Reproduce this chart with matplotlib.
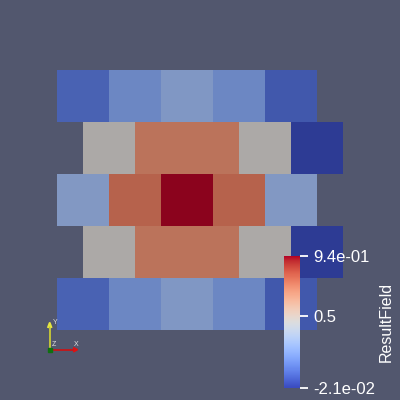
import numpy as np
import matplotlib
matplotlib.use("Agg")
import matplotlib.pyplot as plt
from matplotlib.colors import ListedColormap, Normalize
from matplotlib.cm import ScalarMappable

plt.rcParams['font.family'] = ['Liberation Sans', 'DejaVu Sans']

# --- data -------------------------------------------------------------
row0 = [0.094, 0.219, 0.287, 0.219, 0.065]
row1 = [0.47, 0.709, 0.709, 0.47, -0.021]
row2 = [0.296, 0.757, 0.94, 0.757, 0.296]
row3 = [0.47, 0.709, 0.709, 0.47, -0.021]
row4 = [0.094, 0.219, 0.287, 0.219, 0.065]
rows = [row0, row1, row2, row3, row4]
row_offsets = [0.0, 0.5, 0.0, 0.5, 0.0]
vmin, vmax = -0.021, 0.94
tick_values = [-0.021, 0.5, 0.94]
tick_labels = ["-2.1e-02", "0.5", "9.4e-01"]
field_name = "ResultField"

# --- styling ----------------------------------------------------------
bg = "#52576e"
base = plt.get_cmap("coolwarm")
lit = base(np.linspace(0, 1, 256))
lit[:, :3] *= 0.77
shaded = ListedColormap(lit)
norm = Normalize(vmin=vmin, vmax=vmax)

fig = plt.figure(figsize=(4, 4), dpi=100)
fig.patch.set_facecolor(bg)

ax = fig.add_axes([57/400, 70/400, 286/400, 260/400])
ax.set_facecolor(bg)
for r, (vals, off) in enumerate(zip(rows, row_offsets)):
    xe = np.arange(len(vals) + 1) + off
    ax.pcolormesh(xe, [r, r + 1], np.array(vals)[None, :], cmap=shaded, norm=norm)
ax.set_xlim(0, 5.5)
ax.set_ylim(5, 0)
ax.axis("off")

# colorbar
cax = fig.add_axes([284/400, 12.5/400, 16/400, 131.5/400])
sm = ScalarMappable(norm=norm, cmap=base)
cb = fig.colorbar(sm, cax=cax)
cb.outline.set_visible(False)
cb.set_ticks(tick_values)
cb.set_ticklabels(tick_labels)
cax.tick_params(colors="white", length=6, width=1.3, pad=3.5, labelsize=12)
fig.text(386/400, 1 - 322/400, field_name, rotation=90, color="white",
         fontsize=11.5, ha="center", va="center")

# orientation triad
tri = fig.add_axes([0, 0, 1, 1])
tri.set_xlim(0, 400)
tri.set_ylim(400, 0)
tri.axis("off")
tri.patch.set_alpha(0)
ox, oy = 49.7, 349.7
tri.plot([ox, ox], [oy, 325], color="#d6d630", lw=1.2)
tri.plot([ox - 1.5, ox, ox + 1.5], [327, 323, 327], color="#e6e640", lw=1.5)
tri.plot([ox, 74], [oy, oy], color="#d01010", lw=1.2)
tri.plot([74, 77, 74], [oy - 1.5, oy, oy + 1.5], color="#e01010", lw=1.5)
tri.plot([ox], [oy], marker="s", color="#107010", ms=3)
tri.text(53, 323, "Y", color="#e0e0e0", fontsize=5, ha="left", va="center")
tri.text(76, 345, "X", color="#e0e0e0", fontsize=5, ha="center", va="center")
tri.text(54, 345, "Z", color="#e0e0e0", fontsize=5, ha="center", va="center")

fig.savefig("out.png", dpi=100, facecolor=bg)
